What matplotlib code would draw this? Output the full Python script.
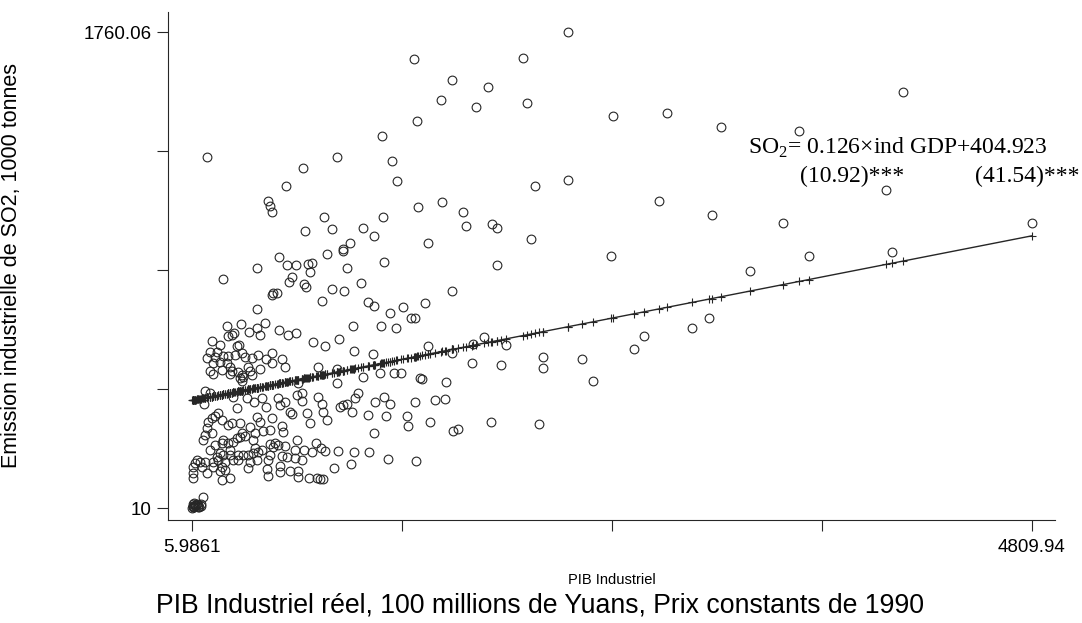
import matplotlib
matplotlib.use("Agg")
import matplotlib.pyplot as plt
import numpy as np

# ---------------- data ----------------
# industrial GDP (100 million Yuan, 1990 prices) and industrial SO2 (1000 t)
gdp_blob = [5.9861, 10, 14, 18, 22, 26, 30, 34, 38, 42, 48, 55, 60, 20, 12]
so2_blob = [10, 14, 18, 12, 22, 16, 20, 25, 15, 20, 12, 18, 24, 28, 24]

gdp_a = [80, 109, 292, 240, 321, 361, 406, 429, 498, 538, 509, 606, 75, 263, 566,
         578, 155, 138, 120, 97, 178, 212, 235, 281, 378, 395, 464, 521, 338, 92,
         80, 120, 69, 292, 412, 452, 366, 526, 263, 281, 309, 183, 178, 212, 240,
         355, 606, 138, 109, 452, 481, 498, 538, 469, 366, 383, 406, 223, 166, 149,
         183, 223, 269, 298, 326, 355, 452, 521, 549, 595, 595, 35, 23, 52, 80,
         12, 63, 126, 155, 195, 240, 126, 178, 269, 338, 378, 441, 326, 166, 195,
         92, 12, 12, 435, 441, 509, 509, 566, 612, 612, 178, 223, 69]
so2_a = [440, 433, 477, 418, 414, 400, 414, 381, 414, 400, 389, 425, 392, 378, 363,
         356, 359, 348, 341, 326, 334, 315, 323, 323, 345, 326, 341, 312, 308, 304,
         278, 286, 260, 286, 293, 297, 286, 289, 267, 271, 275, 260, 249, 249, 253,
         260, 260, 242, 223, 245, 249, 242, 238, 234, 231, 216, 223, 223, 212, 198,
         205, 205, 205, 205, 205, 212, 205, 201, 198, 223, 194, 186, 175, 179, 179,
         161, 161, 179, 186, 179, 186, 161, 161, 186, 179, 186, 186, 157, 146, 150,
         139, 139, 120, 153, 128, 164, 142, 146, 146, 124, 113, 120, 50]

gdp_b = [504, 549, 601, 378, 183, 578, 561, 469, 492, 464, 378, 206, 286, 423, 212,
         235, 246, 332, 378, 395, 504, 555, 601, 120, 166, 263, 275, 109, 92, 138,
         149, 183, 212, 252, 292, 309, 349, 383, 429, 464, 521, 126, 166, 206, 223,
         109, 126, 178, 235, 269, 326, 338, 395, 464, 538, 223, 292, 349, 281, 298]
so2_b = [933, 903, 903, 892, 852, 859, 841, 801, 801, 793, 742, 679, 687, 690, 642,
         646, 653, 657, 672, 646, 664, 646, 653, 624, 609, 606, 609, 584, 562, 565,
         584, 569, 569, 573, 580, 565, 562, 573, 558, 580, 558, 543, 547, 543, 528,
         514, 503, 517, 514, 510, 528, 514, 521, 543, 528, 503, 499, 499, 488, 492]

gdp_c = [92, 544, 441, 452, 464]
so2_c = [1301, 1194, 1139, 1120, 1098]

gdp_d = [612, 835, 635, 635, 727, 749, 755, 664, 681, 778, 955, 938, 892, 870, 852,
         921, 1053, 1104, 1138, 1281, 1013, 1115, 1236, 1241, 1047, 715, 744, 767,
         692, 647, 635, 841, 932, 1018, 1127, 1287, 915, 818, 675, 721, 738, 755]
so2_d = [470, 470, 433, 403, 418, 392, 363, 359, 323, 334, 433, 414, 392, 389, 381,
         363, 400, 418, 392, 400, 352, 348, 348, 312, 286, 249, 231, 220, 216, 223,
         186, 220, 216, 216, 190, 183, 172, 157, 120, 120, 117, 117]

gdp_e = [778, 870, 1104, 669, 692, 681, 892, 647, 658, 807, 875, 972, 749, 1013, 1047,
         1138, 1213, 1258, 927, 1087, 1173, 698, 767, 847, 932, 1041, 727, 835, 984,
         1081, 1161, 1201, 1310]
so2_e = [944, 955, 915, 907, 911, 878, 892, 834, 823, 815, 808, 837, 771, 767, 753,
         727, 749, 709, 679, 679, 672, 620, 606, 631, 587, 576, 528, 521, 492,
         506, 506, 506, 488]

gdp_f = [1293, 1093, 835, 641, 1150, 1178, 1299, 761, 1098, 652, 807, 984, 1047, 910, 870]
so2_f = [1433, 1378, 1301, 1260, 1286, 1212, 1117, 1080, 1080, 1028, 1036, 1040, 1010, 984, 962]

gdp_g = [1750, 1493, 1339, 1281, 1676, 1613, 1802, 1356, 1493, 1607, 1773, 2013, 2013,
         1321, 1459, 1396, 1453, 1367, 1499, 1527, 1716, 1990]
so2_g = [903, 808, 764, 709, 639, 613, 609, 606, 580, 543, 536, 565, 525,
         484, 473, 407, 411, 326, 293, 300, 326, 319]

gdp_h = [2156, 1276, 1899, 1493, 1699, 1430, 1630, 1922, 1968, 2156, 1436, 1556, 1573,
         1722, 1750, 1356, 1945]
so2_h = [1760.06, 1661, 1665, 1584, 1558, 1510, 1484, 1499, 1194, 1216, 1135, 1098, 1047,
         1054, 1040, 984, 999]

gdp_i = [2414, 2723, 3031, 3477, 4072, 2677, 2980, 3386, 3975, 4809.94, 2402, 3535,
         4009, 3197, 2236, 2299, 2534, 2591, 2866, 2963]
so2_i = [1451, 1462, 1411, 1396, 1540, 1139, 1087, 1058, 1179, 1058, 937, 937,
         951, 881, 558, 477, 595, 642, 672, 709]

slope = 0.126
intercept = 404.923

x_ticks = [5.9861, 1206.97, 2407.96, 3608.95, 4809.94]
x_ticklabels = ["5.9861", "", "", "", "4809.94"]
y_ticks = [10, 447.515, 885.03, 1322.545, 1760.06]
y_ticklabels = ["10", "", "", "", "1760.06"]

# ---------------- build ----------------
gdp = np.array(gdp_blob + gdp_a + gdp_b + gdp_c + gdp_d + gdp_e + gdp_f + gdp_g + gdp_h + gdp_i, float)
so2 = np.array(so2_blob + so2_a + so2_b + so2_c + so2_d + so2_e + so2_f + so2_g + so2_h + so2_i, float)
assert len(gdp) == len(so2)

order = np.argsort(gdp)
xs = gdp[order]
fit = slope * xs + intercept

plt.rcParams['font.family'] = ['Liberation Sans', 'DejaVu Sans']
plt.rcParams['mathtext.fontset'] = 'custom'
plt.rcParams['mathtext.rm'] = 'Liberation Serif'

W, H = 1082, 623
fig = plt.figure(figsize=(W / 100, H / 100), dpi=100)
fig.patch.set_facecolor('white')
ax = fig.add_axes([168 / W, 1 - 520 / H, (1055 - 168) / W, (520 - 12) / H])

ink = '#262626'
ax.plot(gdp, so2, linestyle='none', marker='o', markersize=6.3,
        markerfacecolor='none', markeredgecolor=ink, markeredgewidth=0.8)
ax.plot(xs, fit, color=ink, linewidth=1.0, marker='+', markersize=6,
        markeredgewidth=0.8, markeredgecolor=ink)

ax.set_xlim(-131, 4942)
ax.set_ylim(-34, 1834)
ax.set_xticks(x_ticks)
ax.set_xticklabels(x_ticklabels)
ax.set_yticks(y_ticks)
ax.set_yticklabels(y_ticklabels)
ax.tick_params(direction='out', length=8, width=0.8, colors=ink, labelsize=13.5,
               labelcolor='black')
ax.tick_params(axis='x', pad=6)
ax.tick_params(axis='y', pad=4)
for s in ['top', 'right']:
    ax.spines[s].set_visible(False)
for s in ['left', 'bottom']:
    ax.spines[s].set_color(ink)
    ax.spines[s].set_linewidth(0.8)

fig.text(12 / W, 1 - 266 / H, "Emission industrielle de SO2, 1000 tonnes",
         rotation=90, ha='center', va='center', fontsize=15.5)
fig.text(612 / W, 1 - 580 / H, "PIB Industriel", ha='center', va='center', fontsize=10.5)
fig.text(540 / W, 1 - 606 / H,
         "PIB Industriel réel, 100 millions de Yuans, Prix constants de 1990",
         ha='center', va='center', fontsize=19.2)

serif = 'Liberation Serif'
fig.text(748 / W, 1 - 148 / H, r"SO$_2$= 0.126×ind GDP+404.923",
         ha='left', va='center', fontsize=17, family=serif)
fig.text(800 / W, 1 - 176 / H, "(10.92)***", ha='left', va='center',
         fontsize=17, family=serif)
fig.text(975 / W, 1 - 176 / H, "(41.54)***", ha='left', va='center',
         fontsize=17, family=serif)

fig.savefig("out.png", dpi=100, facecolor='white')
